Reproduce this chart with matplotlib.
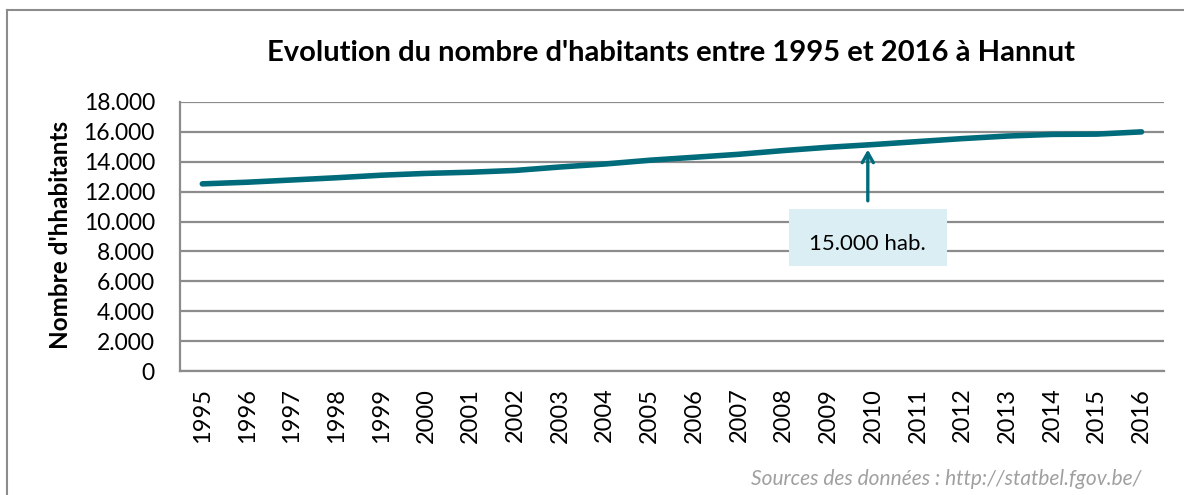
import matplotlib.pyplot as plt
from matplotlib.lines import Line2D
from matplotlib.patches import Rectangle
from matplotlib.ticker import FuncFormatter

plt.rcParams['font.family'] = ['Lato', 'DejaVu Sans']

years = [str(y) for y in range(1995, 2017)]
habitants = [12520, 12630, 12780, 12930, 13100, 13220, 13300, 13420, 13650, 13850,
             14100, 14300, 14500, 14750, 14970, 15150, 15350, 15550, 15720, 15830,
             15850, 16000]
y_ticks = list(range(0, 18001, 2000))

line_color = '#006B7B'
grid_color = '#8c8c8c'

fig = plt.figure(figsize=(11.84, 4.95), dpi=100)
ax = fig.add_axes([0.152, 0.2505, 0.831, 0.5435])

x = list(range(len(years)))
ax.plot(x, habitants, color=line_color, linewidth=4, solid_capstyle='round', zorder=3)

ax.set_xlim(-0.5, len(years) - 0.5)
ax.set_ylim(0, 18000)
ax.set_yticks(y_ticks)
ax.yaxis.set_major_formatter(FuncFormatter(lambda v, p: f"{int(v):,}".replace(',', '.')))
ax.set_xticks(x)
ax.set_xticklabels(years, rotation=90, fontsize=17)
ax.tick_params(axis='y', labelsize=16.5, length=0, pad=18)
ax.tick_params(axis='x', length=0, pad=12)
ax.grid(axis='y', color=grid_color, linewidth=1.6)
ax.set_axisbelow(True)
for s in ['top', 'right']:
    ax.spines[s].set_visible(False)
for s in ['left', 'bottom']:
    ax.spines[s].set_color(grid_color)
    ax.spines[s].set_linewidth(1.6)

ax.set_ylabel("Nombre d'hhabitants", fontsize=17.5, fontweight='bold')
ax.yaxis.set_label_coords(-0.11, 0.505)

fig.text(0.567, 0.893, "Evolution du nombre d'habitants entre 1995 et 2016 à Hannut",
         ha='center', va='center', fontsize=21, fontweight='bold')

# annotation 2010
i2010 = years.index('2010')
ax.annotate('', xy=(i2010 - 0.12, habitants[i2010] - 150), xytext=(i2010 - 0.12, 11200),
            arrowprops=dict(arrowstyle='->,head_width=0.4,head_length=0.7',
                            color=line_color, lw=2.4))
ax.add_patch(Rectangle((0.619, 0.390), 0.1605, 0.212, transform=ax.transAxes,
                       facecolor='#DAEEF3', edgecolor='none', zorder=4))
ax.text(0.699, 0.472, "15.000 hab.", transform=ax.transAxes, ha='center', va='center',
        fontsize=16, zorder=5)

fig.text(0.964, 0.032, "Sources des données : http://statbel.fgov.be/", ha='right',
         va='center', fontsize=15, style='italic', color='#a0a0a0')

# outer frame (left and top edges)
fig.add_artist(Line2D([0.006, 0.006], [0.0, 0.98], color=grid_color, lw=1.5))
fig.add_artist(Line2D([0.006, 1.0], [0.98, 0.98], color=grid_color, lw=1.5))

fig.savefig('out.png', dpi=100)
